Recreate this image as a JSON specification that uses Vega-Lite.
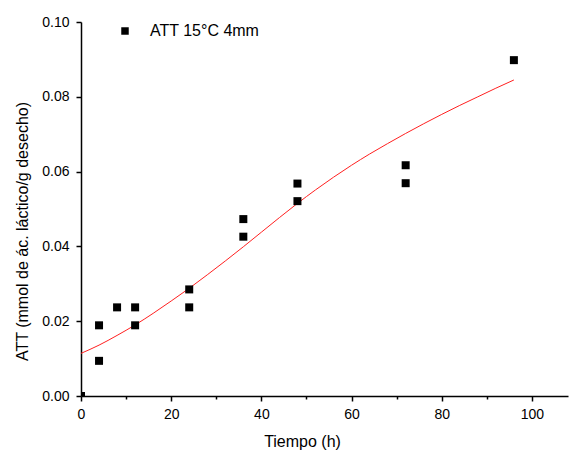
{
  "$schema": "https://vega.github.io/schema/vega-lite/v6.json",
  "width": 487,
  "height": 374,
  "autosize": {"type": "none"},
  "padding": {"left": 81, "top": 22, "right": 1, "bottom": 54},
  "datasets": {
    "obs": [
      {"t": 0, "att": 0.0, "serie": "ATT 15°C 4mm"},
      {"t": 4, "att": 0.0094, "serie": "ATT 15°C 4mm"},
      {"t": 4, "att": 0.0189, "serie": "ATT 15°C 4mm"},
      {"t": 8, "att": 0.0237, "serie": "ATT 15°C 4mm"},
      {"t": 12, "att": 0.0237, "serie": "ATT 15°C 4mm"},
      {"t": 12, "att": 0.0189, "serie": "ATT 15°C 4mm"},
      {"t": 24, "att": 0.0285, "serie": "ATT 15°C 4mm"},
      {"t": 24, "att": 0.0237, "serie": "ATT 15°C 4mm"},
      {"t": 36, "att": 0.0473, "serie": "ATT 15°C 4mm"},
      {"t": 36, "att": 0.0426, "serie": "ATT 15°C 4mm"},
      {"t": 48, "att": 0.0568, "serie": "ATT 15°C 4mm"},
      {"t": 48, "att": 0.0521, "serie": "ATT 15°C 4mm"},
      {"t": 72, "att": 0.0617, "serie": "ATT 15°C 4mm"},
      {"t": 72, "att": 0.0569, "serie": "ATT 15°C 4mm"},
      {"t": 96, "att": 0.0898, "serie": "ATT 15°C 4mm"}
    ],
    "fit": [
      {"t": 0, "att": 0.0114},
      {"t": 4, "att": 0.0136},
      {"t": 8, "att": 0.0162},
      {"t": 12, "att": 0.0190},
      {"t": 16, "att": 0.0221},
      {"t": 20, "att": 0.0254},
      {"t": 24, "att": 0.0288},
      {"t": 28, "att": 0.0324},
      {"t": 32, "att": 0.0361},
      {"t": 36, "att": 0.0399},
      {"t": 40, "att": 0.0438},
      {"t": 44, "att": 0.0477},
      {"t": 48, "att": 0.0515},
      {"t": 52, "att": 0.0551},
      {"t": 56, "att": 0.0585},
      {"t": 60, "att": 0.0617},
      {"t": 64, "att": 0.0647},
      {"t": 68, "att": 0.0675},
      {"t": 72, "att": 0.0702},
      {"t": 76, "att": 0.0728},
      {"t": 80, "att": 0.0753},
      {"t": 84, "att": 0.0777},
      {"t": 88, "att": 0.0800},
      {"t": 92, "att": 0.0823},
      {"t": 96, "att": 0.0845}
    ]
  },
  "layer": [
    {
      "data": {"name": "fit"},
      "mark": {"type": "line", "color": "#ff2020", "strokeWidth": 1, "interpolate": "monotone", "clip": true},
      "encoding": {
        "x": {"field": "t", "type": "quantitative"},
        "y": {"field": "att", "type": "quantitative"}
      }
    },
    {
      "data": {"name": "obs"},
      "mark": {"type": "square", "size": 64, "opacity": 1, "clip": true},
      "encoding": {
        "x": {
          "field": "t",
          "type": "quantitative",
          "scale": {"domain": [0, 108], "nice": false, "zero": false},
          "axis": {
            "title": "Tiempo (h)",
            "values": [0, 10, 20, 30, 40, 50, 60, 70, 80, 90, 100],
            "labelExpr": "datum.value % 20 === 0 ? datum.label : ''",
            "tickSize": {"condition": {"test": "datum.value % 20 === 0", "value": 5}, "value": 3},
            "labelPadding": 6,
            "titleX": 221,
            "titleY": 50,
            "titleBaseline": "alphabetic",
            "titleAnchor": "middle",
            "titleAlign": "center"
          }
        },
        "y": {
          "field": "att",
          "type": "quantitative",
          "scale": {"domain": [0, 0.1], "nice": false},
          "axis": {
            "title": "ATT (mmol de ác. láctico/g desecho)",
            "values": [0, 0.01, 0.02, 0.03, 0.04, 0.05, 0.06, 0.07, 0.08, 0.09, 0.1],
            "format": ".2f",
            "labelExpr": "round(datum.value * 100) % 2 === 0 ? datum.label : ''",
            "tickSize": {"condition": {"test": "round(datum.value * 100) % 2 === 0", "value": 5}, "value": 3},
            "labelPadding": 7,
            "titleAngle": -90,
            "titleX": -54,
            "titleY": 209,
            "titleBaseline": "alphabetic",
            "titleAlign": "center"
          }
        },
        "color": {
          "field": "serie",
          "type": "nominal",
          "scale": {"range": ["#000000"]},
          "legend": {
            "title": null,
            "orient": "none",
            "legendX": 36,
            "legendY": 1,
            "symbolType": "square",
            "symbolSize": 56,
            "symbolFillColor": "#000000",
            "symbolStrokeWidth": 0,
            "labelOffset": 17,
            "labelFontSize": 16,
            "labelFont": "Liberation Sans",
            "labelColor": "#000000",
            "padding": 0
          }
        }
      }
    }
  ],
  "config": {
    "view": {"stroke": null},
    "font": "Liberation Sans",
    "axis": {
      "grid": false,
      "domainColor": "#000000",
      "domainWidth": 1.5,
      "tickColor": "#000000",
      "tickWidth": 1.5,
      "labelFont": "Liberation Sans",
      "labelFontSize": 14,
      "labelColor": "#000000",
      "titleFont": "Liberation Sans",
      "titleFontSize": 16,
      "titleFontWeight": "normal",
      "titleColor": "#000000",
      "labelFlush": false,
      "labelOverlap": false
    }
  }
}
